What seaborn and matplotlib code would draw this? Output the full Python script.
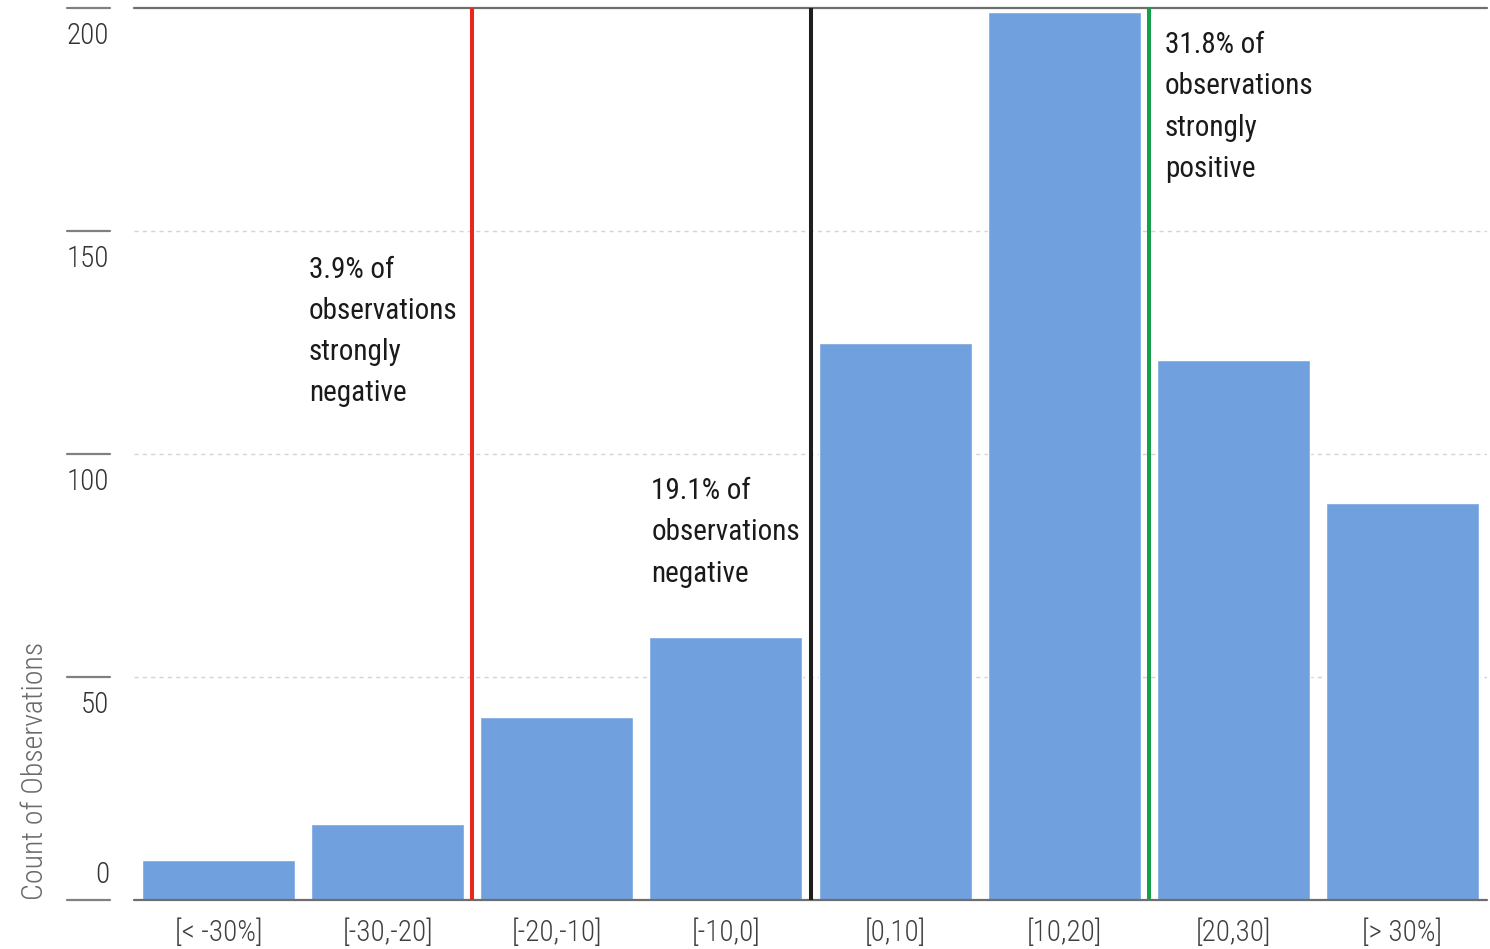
import matplotlib
matplotlib.use("Agg")
import matplotlib.pyplot as plt
import matplotlib.transforms as mtransforms
import seaborn as sns
import pandas as pd

# Histogram of observations by return bucket
buckets = ["[< -30%]", "[-30,-20]", "[-20,-10]", "[-10,0]", "[0,10]", "[10,20]", "[20,30]", "[> 30%]"]
counts = [9, 17, 41, 59, 125, 199, 121, 89]
y_ticks = [0, 50, 100, 150, 200]

# Threshold markers between buckets and their notes
threshold_pos = [1.5, 3.5, 5.5]
threshold_colors = ["#e8281e", "#1e1e1e", "#16a04a"]
notes = [
    "3.9% of\nobservations\nstrongly\nnegative",
    "19.1% of\nobservations\nnegative",
    "31.8% of\nobservations\nstrongly\npositive",
]
note_x = [0.535, 2.558, 5.595]
note_y = [144.5, 94.8, 194.8]

sns.set_theme(style="white")
plt.rcParams["font.family"] = ["Roboto Condensed", "DejaVu Sans"]
plt.rcParams["font.weight"] = "light"

FS = 21

df = pd.DataFrame({"bucket": buckets, "count": counts})

fig = plt.figure(figsize=(14.9, 9.49), dpi=100)
ax = fig.add_axes([134 / 1490, 1 - 900 / 949, 1353 / 1490, 892 / 949])

sns.barplot(data=df, x="bucket", y="count", color="#70a1de", saturation=1,
            width=0.905, ax=ax, zorder=2)

ax.set_xlim(-0.5, len(buckets) - 0.5)
ax.set_ylim(0, 200)
for s in ax.spines.values():
    s.set_visible(False)
ax.set_xlabel("")
ax.set_ylabel("")
ax.set_yticks([])
ax.tick_params(axis="x", length=0, pad=13, labelsize=FS, labelcolor="#404040")

# Gridlines: dashed inside, solid at bottom and top
for v in y_ticks:
    if v in (0, 200):
        ax.axhline(v, color="#6e6e6e", lw=1.6, zorder=3, clip_on=False)
    else:
        ax.axhline(v, color="#d4d4d4", lw=1.0, ls=(0, (3, 3)), zorder=1)

# Y tick labels with short rules to the left
trans = mtransforms.blended_transform_factory(ax.transAxes, ax.transData)
for v in y_ticks:
    ax.plot([-0.0495, -0.0177], [v, v], transform=trans, color="#808080",
            lw=1.6, clip_on=False)
    ty = v + 5.6 if v == 0 else v - 6.3
    ax.text(-0.0185, ty, str(v), transform=trans, ha="right", va="center",
            fontsize=FS, color="#333333")

ax.text(-0.073, 0, "Count of Observations", transform=trans, rotation=90,
        ha="center", va="bottom", fontsize=FS + 0.5, color="#6a6a6a")

# Threshold lines
for xp, c in zip(threshold_pos, threshold_colors):
    ax.plot([xp, xp], [0, 200], color=c, lw=2.9, zorder=4)

# Notes
for x, y, t in zip(note_x, note_y, notes):
    ax.text(x, y, t, ha="left", va="top", fontsize=FS, color="#1a1a1a",
            fontweight="normal", linespacing=1.6)

fig.savefig("out.png", dpi=100)
